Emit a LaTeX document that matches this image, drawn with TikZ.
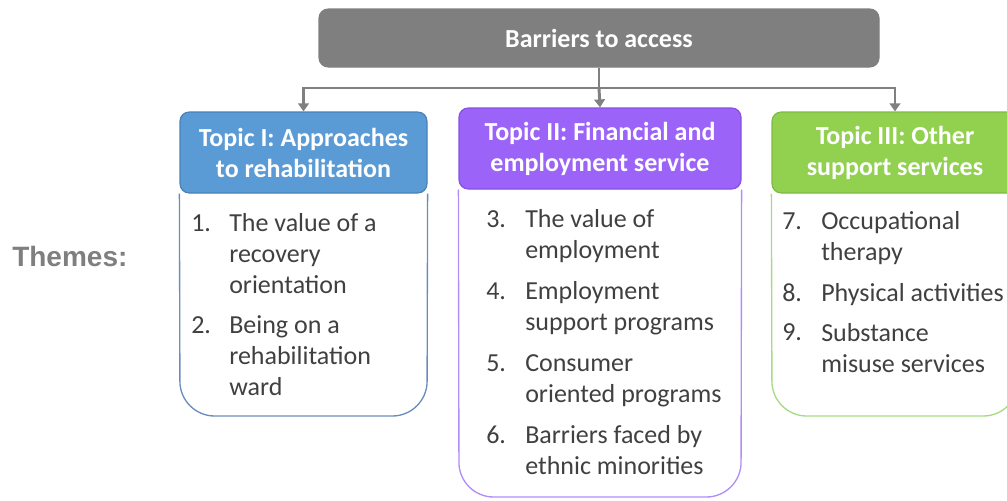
\documentclass[tikz,border=0pt]{standalone}
\usepackage{fontspec}
\setmainfont{Carlito}
\newfontfamily\themesfont{Liberation Sans}
\usetikzlibrary{arrows.meta,backgrounds}
\definecolor{barrgray}{HTML}{7F7F7F}
\definecolor{linegray}{HTML}{808080}
\definecolor{textgray}{HTML}{404040}
\definecolor{bluefill}{HTML}{5B9BD5}
\definecolor{blueedge}{HTML}{4A80B8}
\definecolor{bluebody}{HTML}{6A8DBD}
\definecolor{purplefill}{HTML}{9B63F8}
\definecolor{purpleedge}{HTML}{8650E0}
\definecolor{purplebody}{HTML}{B28CF8}
\definecolor{greenfill}{HTML}{92D050}
\definecolor{greenedge}{HTML}{7DBB43}
\definecolor{greenbody}{HTML}{A8DA85}

\begin{document}
\begin{tikzpicture}[x=0.75pt,y=-0.75pt,
  txt/.style={font=\fontsize{19.5}{23.25}\selectfont, text=textgray, inner sep=0pt, align=left, anchor=base west},
  hdr/.style={draw, rounded corners=7pt, line width=0.9pt, minimum height=60.75pt, inner sep=0pt,
    text=white, align=center, font=\bfseries\fontsize{19.5}{23.25}\selectfont},
  body/.style={line width=1pt, rounded corners=26pt},
  conn/.style={draw=linegray, line width=2.2pt, -{Triangle[width=8pt,length=6pt]}}]

\useasboundingbox (0,0) rectangle (1007,500);
\clip (0,0) rectangle (1007,500);

% top box
\node[hdr, fill=barrgray, draw=barrgray, minimum width=420pt, minimum height=43.5pt] (barriers) at (599,38) {Barriers to access};

% topic headers
\node[hdr, fill=bluefill, draw=blueedge, minimum width=185.25pt] (topicI) at (303.5,152.5) {Topic I: Approaches\\to rehabilitation};
\node[hdr, fill=purplefill, draw=purpleedge, minimum width=211.5pt] (topicII) at (600,148.5) {Topic II: Financial and\\employment service};
\node[hdr, fill=greenfill, draw=greenedge, minimum width=184.5pt] (topicIII) at (895,152.5) {Topic III: Other\\support services};

% bodies
\begin{scope}[on background layer]
\draw[body, draw=bluebody] (topicI.south west) -- (180,416) -- (427,416) -- (topicI.south east);
\draw[body, draw=purplebody] (topicII.south west) -- (459,497) -- (741,497) -- (topicII.south east);
\draw[body, draw=greenbody] (topicIII.south west) -- (772,416) -- (1018,416) -- (topicIII.south east);
\end{scope}

% connectors
\coordinate (hub) at (599,88);
\draw[linegray, line width=2.2pt] (barriers.south) -- (hub);
\draw[conn] (hub) -| (topicI.north);
\draw[conn] (hub) -- (topicII.north);
\draw[conn] (hub) -| (topicIII.north);

\node[font=\themesfont\bfseries\fontsize{21}{25}\selectfont, text=barrgray, anchor=base west, inner sep=0pt] (themes) at (12,266) {Themes:};

% topic I (base = last line)
\node[txt] (n1) at (191,231) {1.};
\node[txt] (t1) at (229,293) {The value of a\\recovery\\orientation};
\node[txt] (n2) at (191,333) {2.};
\node[txt] (t2) at (229,395) {Being on a\\rehabilitation\\ward};

% topic II
\node[txt] (n3) at (486,227) {3.};
\node[txt] (t3) at (525,258) {The value of\\employment};
\node[txt] (n4) at (486,299) {4.};
\node[txt] (t4) at (525,330) {Employment\\support programs};
\node[txt] (n5) at (486,371) {5.};
\node[txt] (t5) at (525,402) {Consumer\\oriented programs};
\node[txt] (n6) at (486,443) {6.};
\node[txt] (t6) at (525,474) {Barriers faced by\\ethnic minorities};

% topic III
\node[txt] (n7) at (782,229) {7.};
\node[txt] (t7) at (821,260) {Occupational\\therapy};
\node[txt] (n8) at (782,301) {8.};
\node[txt] (t8) at (821,301) {Physical activities};
\node[txt] (n9) at (782,340) {9.};
\node[txt] (t9) at (821,372) {Substance\\misuse services};
\end{tikzpicture}
\end{document}
